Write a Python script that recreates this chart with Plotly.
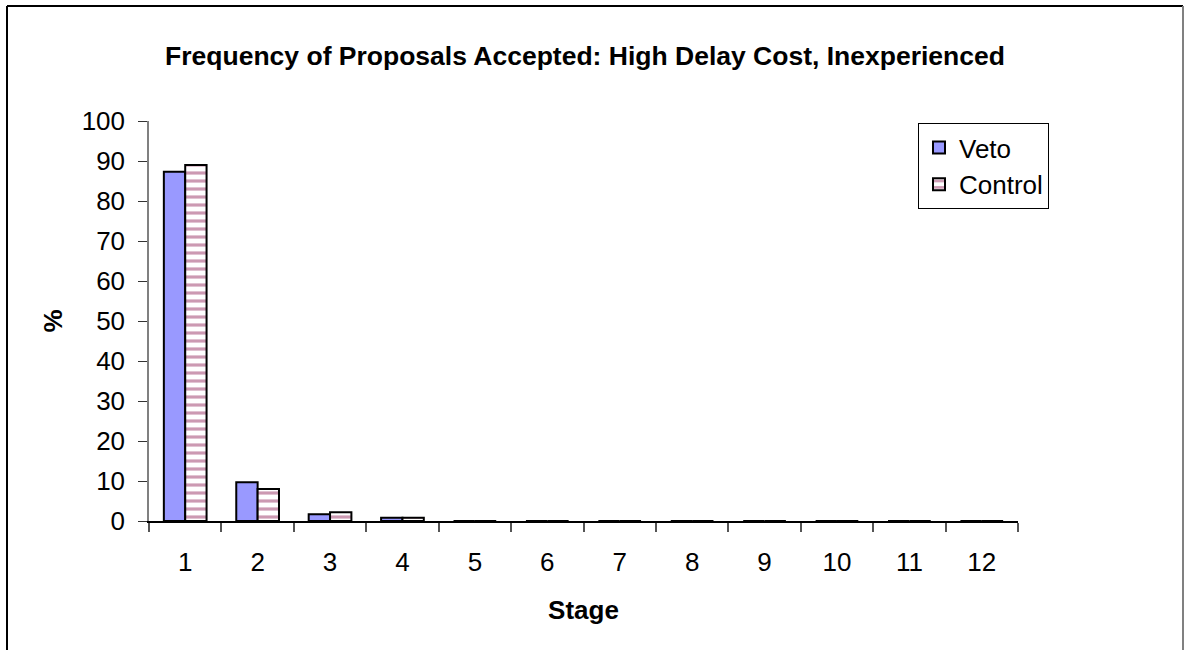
import plotly.graph_objects as go

stages = [str(i) for i in range(1, 13)]
veto = [87.3, 9.7, 1.7, 0.8, 0, 0, 0, 0, 0, 0, 0, 0]
control = [89.0, 8.0, 2.2, 0.8, 0, 0, 0, 0, 0, 0, 0, 0]

FONT = "Liberation Sans, Arial, sans-serif"
FS = 26

fig = go.Figure()
fig.add_trace(go.Bar(
    x=stages, y=veto, name="Veto",
    marker=dict(color="#9999FF", line=dict(color="black", width=2)),
))
fig.add_trace(go.Bar(
    x=stages, y=control, name="Control",
    marker=dict(
        color="white",
        line=dict(color="black", width=2),
        pattern=dict(shape="-", fgcolor="#993366", bgcolor="white",
                     size=8, solidity=0.4),
    ),
))

L, R, T, B = 149, 170, 121, 129
W, H = 1188, 650
pw, ph = W - L - R, H - T - B


def px_x(x):
    return (x - L) / pw


def px_y(y):
    return (H - B - y) / ph


fig.update_layout(
    width=W, height=H,
    margin=dict(l=L, r=R, t=T, b=B),
    paper_bgcolor="white", plot_bgcolor="white",
    barmode="group", bargap=0.41, bargroupgap=0,
    font=dict(family=FONT, color="black", size=FS),
    title=dict(
        text="<b>Frequency of Proposals Accepted: High Delay Cost, Inexperienced</b>",
        x=585 / W, xanchor="center",
        y=1 - 56 / H, yanchor="middle",
        font=dict(size=26.5, family=FONT),
    ),
    showlegend=True,
    legend=dict(
        x=px_x(918), y=px_y(123), xanchor="left", yanchor="top",
        bordercolor="black", borderwidth=1, bgcolor="white",
        font=dict(size=FS, family=FONT),
        tracegroupgap=4,
    ),
    xaxis=dict(
        type="category",
        title=dict(text="<b>Stage</b>", font=dict(size=FS), standoff=25),
        showline=True, linecolor="black", linewidth=1.5,
        ticks="outside", tickson="boundaries", ticklen=9,
        tickcolor="#555555", tickwidth=1.5,
        tickfont=dict(size=FS), ticklabelstandoff=17,
        showgrid=False, zeroline=False,
    ),
    yaxis=dict(
        range=[0, 100], dtick=10,
        title=dict(text="<b>%</b>", font=dict(size=FS), standoff=12),
        showline=True, linecolor="#808080", linewidth=1.5,
        ticks="outside", ticklen=9, tickcolor="#333333", tickwidth=1,
        tickfont=dict(size=FS), ticklabelstandoff=8,
        showgrid=False, zeroline=False,
    ),
    shapes=[
        dict(type="line", xref="paper", yref="paper",
             x0=px_x(7), x1=px_x(7), y0=px_y(6), y1=px_y(700),
             line=dict(color="black", width=2)),
        dict(type="line", xref="paper", yref="paper",
             x0=px_x(7), x1=px_x(1183), y0=px_y(6), y1=px_y(6),
             line=dict(color="black", width=2)),
        dict(type="line", xref="paper", yref="paper",
             x0=px_x(1183), x1=px_x(1183), y0=px_y(6), y1=px_y(700),
             line=dict(color="#808080", width=2)),
    ],
)

fig.write_html("out.html")
